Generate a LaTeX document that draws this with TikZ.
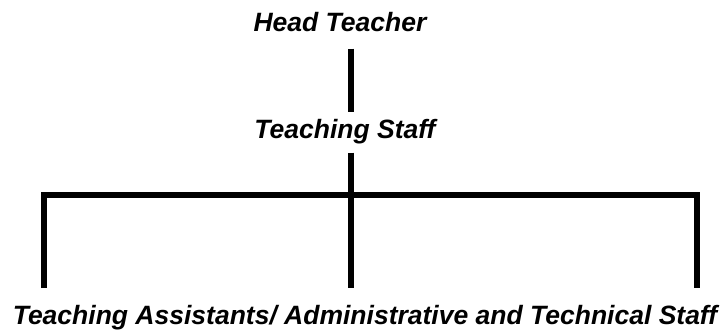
\documentclass[tikz,border=0pt]{standalone}
\usepackage{fontspec}
\newfontfamily\chartfont{Liberation Sans}

\begin{document}
\begin{tikzpicture}[x=1pt,y=1pt,line width=6.5pt,
  lbl/.style={font=\chartfont\bfseries\itshape\fontsize{26.5}{31}\selectfont,
    anchor=base, inner xsep=0pt}]
\useasboundingbox (0,0) rectangle (723,331);

\coordinate (jn) at (351,136);
\coordinate (lft) at (44,136);
\coordinate (rgt) at (697,136);

\node[lbl, inner ysep=13pt] (head) at (340,299) {Head Teacher};
\node[lbl, inner ysep=5pt] (staff) at (345,192) {Teaching Staff};
\node[lbl, inner ysep=14.5pt] (assist) at (365,6) {Teaching Assistants/ Administrative and Technical Staff};

\draw (head.south -| jn) -- (staff.north -| jn);
\draw (staff.south -| jn) -- (jn);
\draw (assist.north -| lft) |- (jn) -| (assist.north -| rgt);
\draw (jn) -- (assist.north -| jn);
\end{tikzpicture}
\end{document}
